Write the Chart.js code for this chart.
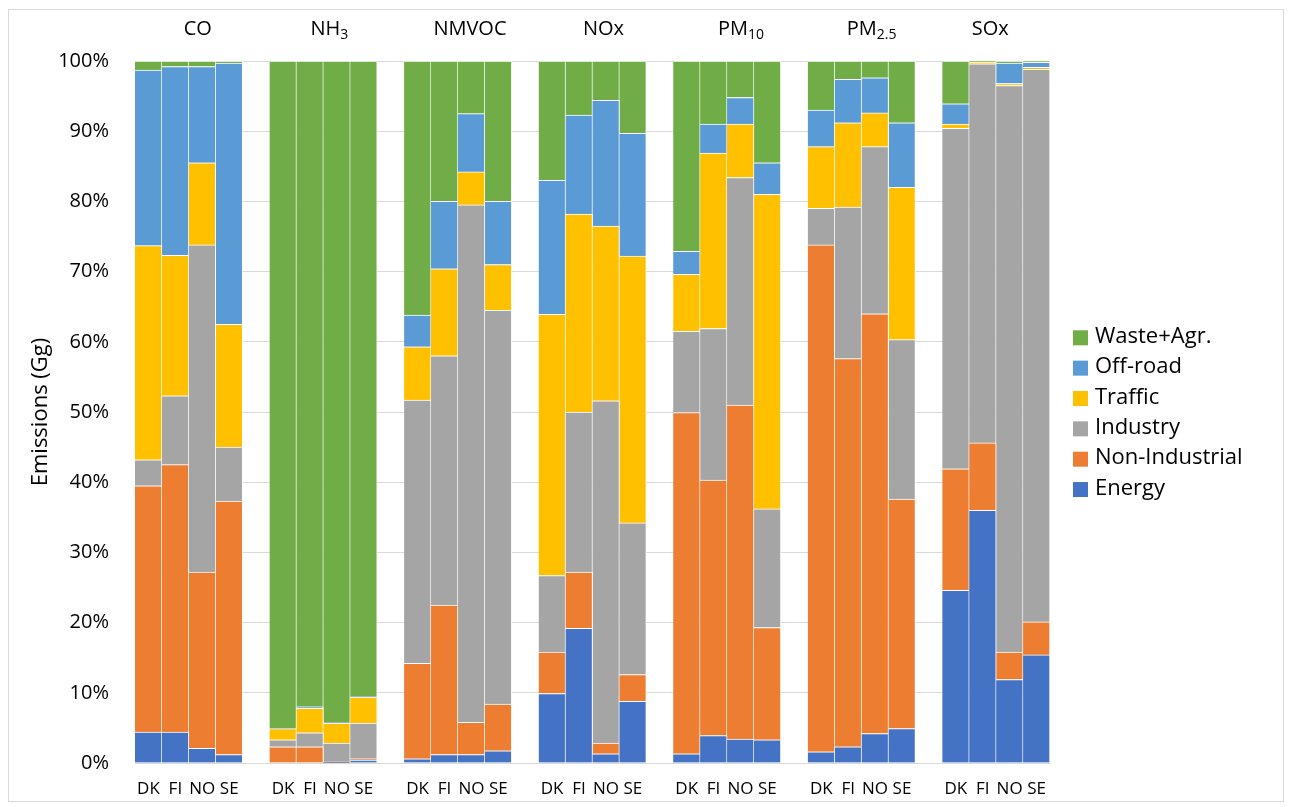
<!DOCTYPE html>
<html>
<head>
<meta charset="utf-8">
<title>Emission shares by sector</title>
<script src="https://cdn.jsdelivr.net/npm/chart.js@4.4.1/dist/chart.umd.min.js"></script>
<style>
  html, body { margin: 0; padding: 0; background: #ffffff; }
  #wrap { width: 1290px; height: 807px; }
</style>
</head>
<body>
<div id="wrap"><canvas id="c" width="1290" height="807"></canvas></div>
<script>
// Pollutant groups (title text split into base and subscript) and countries
const pollutants = ['CO', 'NH3', 'NMVOC', 'NOx', 'PM10', 'PM2.5', 'SOx'];
const pollutantBase = ['CO', 'NH', 'NMVOC', 'NOx', 'PM', 'PM', 'SOx'];
const pollutantSub = ['', '3', '', '', '10', '2.5', ''];
const countries = ['DK', 'FI', 'NO', 'SE'];

// Sector shares (%), four values per pollutant in the order DK, FI, NO, SE
const energy = [
  4.4, 4.4, 2.1, 1.2,
  0, 0, 0.05, 0.4,
  0.6, 1.2, 1.2, 1.75,
  9.9, 19.2, 1.3, 8.8,
  1.3, 3.9, 3.4, 3.3,
  1.6, 2.3, 4.2, 4.9,
  24.6, 36.0, 11.9, 15.4
];
const nonIndustrial = [
  35.1, 38.1, 25.1, 36.1,
  2.3, 2.3, 0.1, 0.2,
  13.6, 21.3, 4.6, 6.65,
  5.9, 8.0, 1.55, 3.8,
  48.6, 36.4, 47.6, 16.0,
  72.2, 55.3, 59.8, 32.7,
  17.3, 9.6, 3.9, 4.7
];
const industry = [
  3.7, 9.8, 46.6, 7.7,
  1.0, 2.0, 2.7, 5.1,
  37.5, 35.5, 73.7, 56.1,
  10.9, 22.8, 48.75, 21.6,
  11.6, 21.6, 32.4, 16.9,
  5.2, 21.6, 23.8, 22.7,
  48.5, 54.0, 80.7, 78.7
];
const traffic = [
  30.5, 20.0, 11.7, 17.5,
  1.6, 3.5, 2.85, 3.7,
  7.6, 12.4, 4.7, 6.5,
  37.2, 28.2, 24.9, 38.0,
  8.1, 25.0, 7.6, 44.8,
  8.8, 12.0, 4.8, 21.7,
  0.6, 0.2, 0.3, 0.3
];
const offRoad = [
  25.0, 26.9, 13.7, 37.2,
  0.05, 0.2, 0.1, 0.1,
  4.5, 9.6, 8.3, 9.0,
  19.1, 14.1, 17.9, 17.5,
  3.3, 4.1, 3.8, 4.5,
  5.2, 6.2, 5.0, 9.2,
  2.9, 0.05, 2.9, 0.7
];
const wasteAgr = [
  1.3, 0.8, 0.8, 0.3,
  95.05, 92.0, 94.2, 90.5,
  36.2, 20.0, 7.5, 20.0,
  17.0, 7.7, 5.6, 10.3,
  27.1, 9.0, 5.2, 14.5,
  7.0, 2.6, 2.4, 8.8,
  6.1, 0.15, 0.3, 0.2
];

const seriesNames = ['Energy', 'Non-Industrial', 'Industry', 'Traffic', 'Off-road', 'Waste+Agr.'];
const seriesColors = ['#4472C4', '#ED7D31', '#A5A5A5', '#FFC000', '#5B9BD5', '#70AD47'];
const seriesValues = [energy, nonIndustrial, industry, traffic, offRoad, wasteAgr];

// Small horizontal nudges (px) for the pollutant titles above each group
const titleShift = [9, 6, 12, 11, 14, 10, -6];

const FONT = "'Open Sans', 'Noto Sans', sans-serif";

// Category slots: four country bars per pollutant, with one empty slot between pollutants
const labels = [];
pollutants.forEach((p, g) => {
  countries.forEach(c => labels.push(c));
  if (g < pollutants.length - 1) labels.push('');
});
function spread(values) {
  const out = [];
  pollutants.forEach((p, g) => {
    for (let i = 0; i < countries.length; i++) out.push(values[g * countries.length + i]);
    if (g < pollutants.length - 1) out.push(null);
  });
  return out;
}

const datasets = seriesNames.map((name, i) => ({
  label: name,
  data: spread(seriesValues[i]),
  backgroundColor: seriesColors[i],
  borderColor: '#ffffff',
  borderWidth: { top: 1, right: 1, left: 0, bottom: 0 },
  borderSkipped: false,
  barPercentage: 1,
  categoryPercentage: 1
}));

// Outer frame, pollutant titles and the legend column
const decorations = {
  id: 'decorations',
  beforeDraw(chart) {
    const ctx = chart.ctx;
    ctx.save();
    ctx.fillStyle = '#ffffff';
    ctx.fillRect(0, 0, chart.width, chart.height);
    ctx.strokeStyle = '#D9D9D9';
    ctx.lineWidth = 1;
    ctx.strokeRect(8.5, 9.5, 1275, 792);
    ctx.restore();
  },
  afterDraw(chart) {
    const ctx = chart.ctx;
    const x = chart.scales.x;
    ctx.save();
    ctx.fillStyle = '#000000';
    ctx.textBaseline = 'alphabetic';
    ctx.textAlign = 'left';
    pollutants.forEach((p, g) => {
      const centre = x.getPixelForValue(g * 5 + 1.5) + titleShift[g];
      ctx.font = `20px ${FONT}`;
      const wBase = ctx.measureText(pollutantBase[g]).width;
      ctx.font = `14px ${FONT}`;
      const wSub = pollutantSub[g] ? ctx.measureText(pollutantSub[g]).width : 0;
      const left = centre - (wBase + wSub) / 2;
      ctx.font = `20px ${FONT}`;
      ctx.fillText(pollutantBase[g], left, 34.5);
      if (pollutantSub[g]) {
        ctx.font = `14px ${FONT}`;
        ctx.fillText(pollutantSub[g], left + wBase, 38.5);
      }
    });

    // legend, top item is the last stacked series
    const items = chart.data.datasets.map((d, i) => ({ text: d.label, color: d.backgroundColor })).reverse();
    ctx.font = `22px ${FONT}`;
    ctx.textBaseline = 'middle';
    items.forEach((it, i) => {
      const yc = 337.8 + i * 30.35;
      ctx.fillStyle = it.color;
      ctx.fillRect(1073, yc - 7.5, 15, 15);
      ctx.fillStyle = '#000000';
      ctx.fillText(it.text, 1095, yc - 1);
    });
    ctx.restore();
  }
};

new Chart(document.getElementById('c'), {
  type: 'bar',
  data: { labels, datasets },
  plugins: [decorations],
  options: {
    responsive: false,
    animation: false,
    devicePixelRatio: 1,
    layout: { padding: { left: 0, top: 61, right: 240, bottom: 0 } },
    plugins: {
      legend: { display: false },
      tooltip: { enabled: false },
      title: { display: false }
    },
    scales: {
      x: {
        stacked: true,
        grid: { display: false },
        border: { display: false },
        ticks: {
          autoSkip: false,
          maxRotation: 0,
          minRotation: 0,
          padding: 8,
          color: '#000000',
          font: { family: FONT, size: 17 }
        },
        afterFit(scale) { scale.height = 44; }
      },
      y: {
        stacked: true,
        min: 0,
        max: 100,
        grid: { color: '#D9D9D9', lineWidth: 1, drawTicks: false },
        border: { display: false },
        ticks: {
          stepSize: 10,
          padding: 26,
          color: '#000000',
          font: { family: FONT, size: 20 },
          callback: v => v + '%'
        },
        title: {
          display: true,
          text: 'Emissions (Gg)',
          color: '#000000',
          font: { family: FONT, size: 22 },
          padding: { top: 28, bottom: 0 }
        },
        afterFit(scale) { scale.width = 135; }
      }
    }
  }
});
</script>
</body>
</html>
